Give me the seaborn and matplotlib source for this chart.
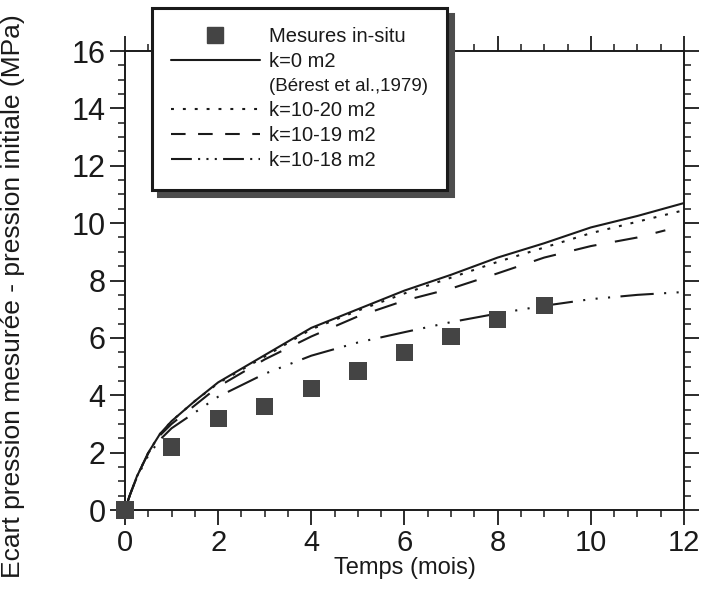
import numpy as np
import pandas as pd
import seaborn as sns
import matplotlib.pyplot as plt
from matplotlib.lines import Line2D
from matplotlib.ticker import MultipleLocator

sns.set_theme(style="ticks")
plt.rcParams['font.family'] = ['Liberation Sans', 'DejaVu Sans']

# measured points (months, MPa)
mes_t = [0, 1, 2, 3, 4, 5, 6, 7, 8, 9]
mes_p = [0.0, 2.2, 3.2, 3.6, 4.24, 4.85, 5.5, 6.05, 6.65, 7.12]

# simulated curves
t_k0 = [0, 0.1, 0.25, 0.5, 0.75, 1, 1.5, 2, 3, 4, 5, 6, 7, 8, 9, 10, 11, 12]
p_k0 = [0, 0.5, 1.15, 2.0, 2.65, 3.1, 3.8, 4.45, 5.4, 6.35, 7.0, 7.65, 8.2, 8.8, 9.3, 9.85, 10.25, 10.7]

t_k20 = [0, 0.1, 0.25, 0.5, 0.75, 1, 1.5, 2, 3, 4, 5, 6, 7, 8, 9, 10, 11, 12]
p_k20 = [0, 0.5, 1.15, 2.0, 2.65, 3.1, 3.8, 4.42, 5.35, 6.3, 6.95, 7.55, 8.1, 8.65, 9.15, 9.65, 10.05, 10.45]

t_k19 = [0, 0.1, 0.25, 0.5, 0.75, 1, 1.5, 2, 3, 4, 5, 6, 7, 8, 9, 10, 11, 11.6]
p_k19 = [0, 0.5, 1.15, 1.98, 2.6, 3.0, 3.65, 4.3, 5.25, 6.05, 6.75, 7.3, 7.72, 8.25, 8.8, 9.2, 9.5, 9.75]

t_k18 = [0, 0.1, 0.25, 0.5, 0.75, 1, 1.5, 2, 3, 4, 5, 6, 7, 8, 9, 10, 11, 12]
p_k18 = [0, 0.5, 1.12, 1.9, 2.45, 2.85, 3.4, 3.95, 4.75, 5.38, 5.84, 6.2, 6.55, 6.85, 7.12, 7.35, 7.5, 7.6]

labels = ["Mesures in-situ", "k=0 m2", "(Bérest et al.,1979)",
          "k=10-20 m2", "k=10-19 m2", "k=10-18 m2"]

ink = "#1a1a1a"
sq = "#444444"
ls_dot = (0, (1.4, 4.3))
ls_dash = (0, (11, 9))
ls_dd = (0, (16, 5, 1, 5, 1, 5, 1, 5))

fig = plt.figure(figsize=(7.01, 5.91), dpi=100)
ax = fig.add_axes([0.1783, 0.137, 0.7974, 0.7767])

curves = [
    (t_k0, p_k0, "-"),
    (t_k20, p_k20, ls_dot),
    (t_k19, p_k19, ls_dash),
    (t_k18, p_k18, ls_dd),
]
for t, p, ls in curves:
    df = pd.DataFrame({"t": t, "p": p})
    sns.lineplot(data=df, x="t", y="p", ax=ax, color=ink, linewidth=1.5,
                 linestyle=ls, errorbar=None, legend=False)

mes = pd.DataFrame({"t": mes_t, "p": mes_p})
sns.scatterplot(data=mes, x="t", y="p", ax=ax, marker="s", s=155, color=sq,
                edgecolor="none", zorder=5, clip_on=False, legend=False)

ax.set_xlim(0, 12)
ax.set_ylim(0, 16)
ax.xaxis.set_major_locator(MultipleLocator(2))
ax.xaxis.set_minor_locator(MultipleLocator(0.5))
ax.yaxis.set_major_locator(MultipleLocator(2))
ax.yaxis.set_minor_locator(MultipleLocator(0.5))

for s in ax.spines.values():
    s.set_linewidth(1.4)
    s.set_color(ink)

ax.tick_params(which="major", direction="out", length=11, width=1.3,
               color=ink, labelsize=22, pad=3, labelcolor=ink,
               top=True, right=True, labeltop=False, labelright=False)
ax.tick_params(which="minor", direction="out", length=5, width=1.1,
               color=ink, top=True, right=True)
ax.tick_params(axis="x", which="major", labelsize=21, pad=3)

ax.set_xlabel("Temps (mois)", fontsize=17, color=ink)
ax.xaxis.set_label_coords(0.5, -0.103)
ax.set_ylabel("Ecart pression mesurée - pression initiale (MPa)", fontsize=19, color=ink)
ax.yaxis.set_label_coords(-0.178, 0.467)

handles = [
    Line2D([], [], marker="s", markersize=12, color=sq, linestyle="none"),
    Line2D([], [], color=ink, linewidth=1.5, linestyle="-"),
    Line2D([], [], color="none"),
    Line2D([], [], color=ink, linewidth=1.5, linestyle=ls_dot),
    Line2D([], [], color=ink, linewidth=1.5, linestyle=(0, (7, 6))),
    Line2D([], [], color=ink, linewidth=1.5, linestyle=(0, (10, 3, 1, 3, 1, 3, 1, 3))),
]
leg = fig.legend(handles, labels, loc="upper left",
                 bbox_to_anchor=(152 / 701, 1 - 8 / 591), borderaxespad=0,
                 fontsize=14.5, handlelength=4.4, handletextpad=0.45,
                 labelspacing=0.3, borderpad=0.95, fancybox=False,
                 edgecolor=ink, framealpha=1,
                 shadow={"ox": 4.5, "oy": -4.5, "facecolor": "0.3",
                         "edgecolor": "0.3", "alpha": 1})
leg.get_frame().set_linewidth(2.2)
for txt in leg.get_texts():
    txt.set_color(ink)
leg.get_texts()[2].set_fontsize(13.5)

fig.savefig("out.png", dpi=100)
